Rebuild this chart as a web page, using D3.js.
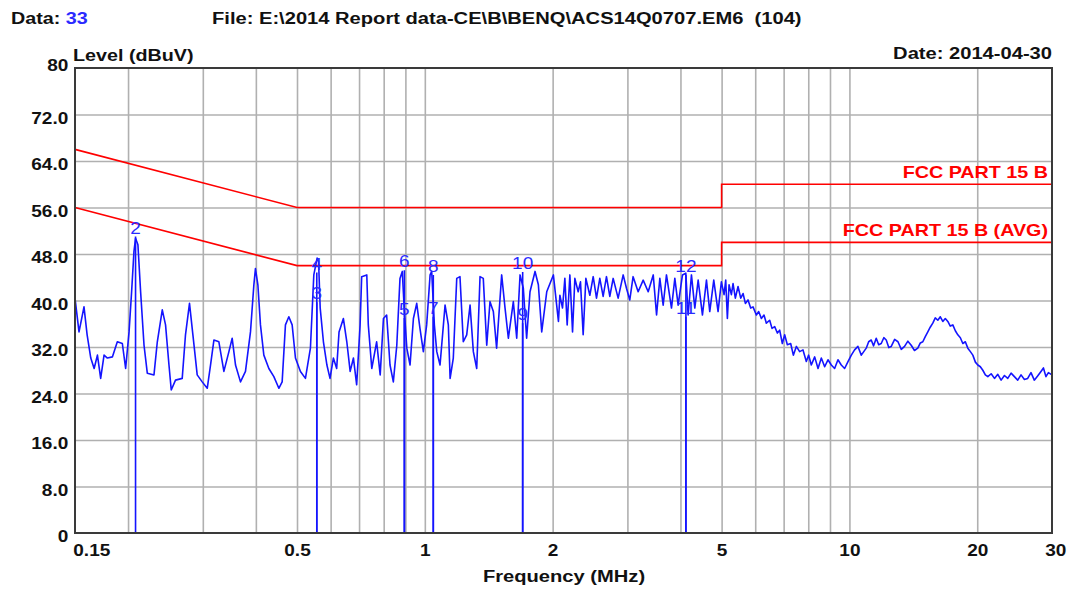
<!DOCTYPE html>
<html>
<head>
<meta charset="utf-8">
<script src="https://cdn.jsdelivr.net/npm/d3@7"></script>
<style>
body { margin: 0; background: #fff; }
svg { display: block; font-family: "Liberation Sans", Arial, sans-serif; }
.grid line { stroke: #b0b0b0; stroke-width: 1.6; }
.grid .domain { display: none; }
.ticks .domain { display: none; }
.ticks text { font-size: 17px; font-weight: bold; fill: #111; }
</style>
</head>
<body>
<svg width="1069" height="590"></svg>
<script>
// scan trace, [MHz, dBuV]
const trace = [
  [0.150,40.4],[0.1533,34.6],[0.1575,38.9],[0.1602,34.1],[0.1634,30.1],[0.1664,28.3],[0.1694,30.6],[0.1724,26.6],
  [0.1756,30.6],[0.1788,30.1],[0.1837,30.3],[0.1887,32.9],[0.1939,32.6],[0.1974,28.3],[0.2011,34.6],[0.2039,41.5],
  [0.2065,48.4],[0.2083,50.7],[0.2110,49.6],[0.2141,41.5],[0.2181,32.3],[0.2220,27.5],[0.2302,27.2],[0.2344,32.9],
  [0.2408,38.4],[0.2451,35.8],[0.2497,28.9],[0.2528,24.6],[0.2587,26.3],[0.2683,26.6],[0.2731,34.1],[0.2791,39.5],
  [0.2843,34.1],[0.2910,27.2],[0.2990,26.0],[0.3073,24.9],[0.3128,28.9],[0.3186,33.2],[0.3273,32.9],[0.3363,27.8],
  [0.3456,31.2],[0.3518,33.5],[0.3582,28.9],[0.3680,26.0],[0.3781,27.8],[0.3885,34.6],[0.3957,42.7],[0.3991,45.5],
  [0.4044,42.7],[0.4101,35.8],[0.4177,30.6],[0.4292,28.3],[0.4410,26.9],[0.4531,24.9],[0.4613,26.0],[0.4696,35.8],
  [0.4783,37.2],[0.4870,35.8],[0.4958,30.1],[0.5094,27.8],[0.5234,26.6],[0.5377,31.8],[0.5477,44.4],[0.5576,47.3],
  [0.562,46.7],[0.567,38.7],[0.577,32.9],[0.588,28.9],[0.598,26.6],[0.609,30.1],[0.620,28.3],[0.628,34.6],
  [0.643,36.9],[0.655,32.9],[0.667,27.8],[0.679,30.1],[0.691,25.5],[0.704,35.8],[0.710,44.1],[0.730,44.4],
  [0.736,35.8],[0.750,28.3],[0.770,32.9],[0.785,27.2],[0.799,36.9],[0.813,37.5],[0.828,28.9],[0.843,26.0],
  [0.859,32.3],[0.874,43.8],[0.885,45.0],[0.895,38.1],[0.907,31.8],[0.923,28.9],[0.940,36.9],[0.957,39.5],
  [0.974,35.2],[0.992,31.2],[1.010,35.8],[1.029,44.4],[1.038,45.0],[1.053,35.8],[1.067,31.2],[1.086,28.9],
  [1.116,39.2],[1.136,35.8],[1.147,26.6],[1.167,30.1],[1.189,43.8],[1.210,44.1],[1.232,32.9],[1.255,34.1],
  [1.278,39.2],[1.301,31.2],[1.325,28.3],[1.349,44.1],[1.373,43.8],[1.399,32.3],[1.424,39.8],[1.450,38.1],
  [1.476,31.8],[1.517,44.4],[1.545,38.7],[1.573,33.5],[1.616,39.8],[1.646,33.5],[1.676,44.4],[1.706,42.1],
  [1.737,33.5],[1.769,41.5],[1.818,45.0],[1.851,42.7],[1.885,34.6],[1.937,41.5],[2.008,44.4],[2.064,36.4],
  [2.080,40.9],[2.110,38.7],[2.137,43.8],[2.164,35.8],[2.196,44.4],[2.228,34.6],[2.256,43.8],[2.297,41.5],
  [2.326,43.2],[2.360,34.1],[2.395,43.8],[2.447,40.9],[2.492,44.1],[2.537,40.4],[2.583,43.8],[2.630,40.7],
  [2.678,44.1],[2.727,40.7],[2.777,43.8],[2.853,40.4],[2.932,44.4],[2.985,42.1],[3.039,40.1],[3.094,44.1],
  [3.180,41.5],[3.268,43.5],[3.358,41.5],[3.451,44.4],[3.514,37.5],[3.577,43.8],[3.642,39.2],[3.708,44.4],
  [3.810,38.7],[3.880,43.8],[3.950,39.2],[4.044,44.4],[4.118,44.7],[4.170,37.5],[4.246,44.4],[4.324,38.7],
  [4.403,43.5],[4.507,37.5],[4.606,43.5],[4.689,38.1],[4.792,43.5],[4.905,38.1],[4.994,43.2],
  [5.067,41.0],[5.113,43.5],[5.159,36.9],[5.206,42.7],[5.272,41.0],[5.320,42.9],[5.387,40.4],[5.466,42.4],
  [5.546,40.4],[5.617,41.2],[5.688,39.5],[5.770,40.1],[5.854,38.7],[5.929,38.9],[6.037,37.5],[6.114,38.1],
  [6.203,36.9],[6.293,37.5],[6.373,36.1],[6.489,36.6],[6.572,35.2],[6.668,35.5],[6.765,34.4],[6.851,34.9],
  [6.950,32.6],[7.039,34.1],[7.142,32.4],[7.272,32.6],[7.378,30.6],[7.499,32.1],[7.635,31.2],[7.774,31.5],
  [7.916,29.5],[8.016,30.6],[8.133,28.9],[8.283,30.3],[8.435,28.3],[8.587,30.1],[8.744,28.6],[8.902,29.8],
  [9.065,28.9],[9.229,28.3],[9.398,29.8],[9.568,28.9],[9.743,28.3],[9.923,29.5],[10.104,30.6],[10.284,31.5],
  [10.473,32.1],[10.666,30.6],
  [10.955,31.8],[11.10,32.9],[11.255,33.2],[11.40,32.2],[11.565,33.5],[11.72,32.4],[11.883,32.6],[12.05,33.6],
  [12.210,33.2],[12.38,31.9],[12.546,32.1],[12.78,33.3],[13.012,32.9],[13.25,31.6],[13.486,32.1],[13.73,33.0],
  [13.981,32.3],[14.23,31.4],[14.490,31.8],[14.69,32.7],[14.888,32.9],[15.09,33.8],[15.298,34.6],[15.50,35.4],
  [15.717,36.1],[15.93,37.0],[16.151,36.6],[16.37,37.2],[16.594,36.4],[16.82,36.9],[17.051,36.4],[17.28,35.6],
  [17.520,35.8],[17.76,34.8],[18.001,34.1],[18.25,33.6],[18.496,32.6],[18.75,32.9],[19.004,31.8],[19.27,31.2],
  [19.528,30.6],[19.80,29.4],[20.064,28.9],[20.34,28.6],[20.616,28.0],[20.90,27.2],[21.182,26.9],[21.57,27.4],
  [21.960,26.6],[22.36,27.3],[22.764,26.3],[23.18,27.1],[23.600,26.6],[24.03,27.5],[24.466,26.9],[24.91,26.3],
  [25.362,27.2],[25.83,26.4],[26.294,26.6],[26.77,27.6],[27.255,26.3],[27.75,27.0],[28.259,27.8],[28.64,28.4],
  [29.029,26.9],[29.42,27.6],[30.0,27.2]
];

// limit lines
const limitQP  = [[0.15,66],[0.5,56],[5,56],[5,60],[30,60]];
const limitAVG = [[0.15,56],[0.5,46],[5,46],[5,50],[30,50]];

// final measurement markers
const markerNo    = [2, 3, 4, 5, 6, 7, 8, 9, 10, 11, 12];
const markerMHz   = [0.2083, 0.5566, 0.5566, 0.895, 0.895, 1.047, 1.047, 1.70, 1.70, 4.12, 4.12];
const markerLevel = [51.0, 39.7, 44.8, 37.0, 45.2, 37.2, 44.4, 36.1, 44.9, 37.2, 44.4];

const xGrid   = [0.2,0.3,0.4,0.5,0.6,0.7,0.8,0.9,1,2,3,4,5,6,7,8,9,10,20];
const xLabels = [0.15,0.5,1,2,5,10,20,30];
const yTicks  = [0,8,16,24,32,40,48,56,64,72,80];

const SX = 1.16; // text in the source is a little wide

const svg = d3.select("svg");
const pL = 75, pR = 1052, pT = 68, pB = 533;

const x = d3.scaleLog().domain([0.15, 30]).range([pL, pR]);
const y = d3.scaleLinear().domain([0, 80]).range([pB, pT]);

// grid
svg.append("g").attr("class", "grid")
    .attr("transform", `translate(0,${pB})`)
    .call(d3.axisBottom(x).tickValues(xGrid).tickSize(-(pB - pT)).tickFormat(""));
svg.append("g").attr("class", "grid")
    .attr("transform", `translate(${pL},0)`)
    .call(d3.axisLeft(y).tickValues(yTicks.slice(1, -1)).tickSize(-(pR - pL)).tickFormat(""));

// tick labels
const xAx = svg.append("g").attr("class", "ticks")
    .attr("transform", `translate(0,${pB})`)
    .call(d3.axisBottom(x).tickValues(xLabels).tickSize(0).tickPadding(11).tickFormat(d => String(d)));
xAx.selectAll("text").attr("transform", "scale(1.12,1)");
xAx.selectAll("text").filter(d => d === 0.15).attr("text-anchor", "start").attr("x", -2);
xAx.selectAll("text").filter(d => d === 30).attr("x", 3);

const yAx = svg.append("g").attr("class", "ticks")
    .attr("transform", `translate(${pL},0)`)
    .call(d3.axisLeft(y).tickValues(yTicks).tickSize(0).tickPadding(6)
        .tickFormat(d => (d === 0 || d === 80) ? String(d) : d.toFixed(1)));
yAx.selectAll("text").attr("dy", d => d === 80 ? "0.12em" : "0.52em")
    .attr("transform", "scale(1.12,1)");

// limit lines
const line = d3.line().x(d => x(d[0])).y(d => y(d[1]));
svg.append("path").datum(limitQP).attr("d", line)
    .attr("fill", "none").attr("stroke", "#ff0000").attr("stroke-width", 1.6);
svg.append("path").datum(limitAVG).attr("d", line)
    .attr("fill", "none").attr("stroke", "#ff0000").attr("stroke-width", 1.6);

// trace
svg.append("path").datum(trace).attr("d", line)
    .attr("fill", "none").attr("stroke", "#1414ff").attr("stroke-width", 1.6)
    .attr("stroke-linejoin", "round");

// marker lines
svg.append("g").selectAll("line").data(markerNo).join("line")
    .attr("x1", (d, i) => x(markerMHz[i])).attr("x2", (d, i) => x(markerMHz[i]))
    .attr("y1", y(0)).attr("y2", (d, i) => y(markerLevel[i]))
    .attr("stroke", "#1414ff").attr("stroke-width", 1.6);

function txt(g, px, py, s, o = {}) {
    return g.append("text")
        .attr("transform", `translate(${px},${py}) scale(${o.sx || SX},1)`)
        .attr("text-anchor", o.anchor || "start")
        .attr("font-weight", o.weight || "bold")
        .attr("font-size", o.size || 17)
        .attr("fill", o.fill || "#111")
        .style("white-space", "pre")
        .text(s);
}

// marker numbers
markerNo.forEach((n, i) => {
    txt(svg, x(markerMHz[i]), y(markerLevel[i]) - 3, String(n),
        { anchor: "middle", weight: "normal", fill: "#2a2aff", sx: 1.12 });
});

// frame
svg.append("rect").attr("x", pL).attr("y", pT)
    .attr("width", pR - pL).attr("height", pB - pT)
    .attr("fill", "none").attr("stroke", "#3a3a3a").attr("stroke-width", 2);

// limit names
txt(svg, pR - 4, y(60) - 6, "FCC PART 15 B", { anchor: "end", fill: "#ff0000" });
txt(svg, pR - 4, y(50) - 6, "FCC PART 15 B (AVG)", { anchor: "end", fill: "#ff0000" });

// header
const d1 = txt(svg, 11, 24, "Data: ");
d1.append("tspan").attr("fill", "#2a2aff").text("33");
txt(svg, 212, 24, "File: E:\\2014 Report data-CE\\B\\BENQ\\ACS14Q0707.EM6  (104)", { sx: 1.185 });
txt(svg, 73, 61, "Level (dBuV)");
txt(svg, pR, 59, "Date: 2014-04-30", { anchor: "end", sx: 1.185 });
txt(svg, 564, 582, "Frequency (MHz)", { anchor: "middle", sx: 1.185 });
</script>
</body>
</html>
